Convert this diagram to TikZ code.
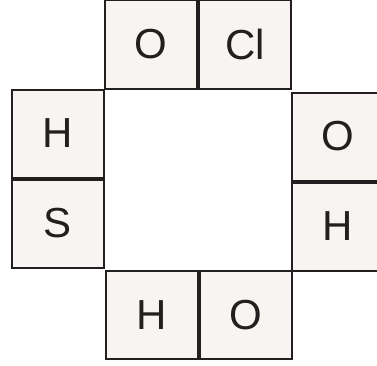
\documentclass[tikz,border=0pt]{standalone}
\usepackage{fontspec}
\setmainfont{Liberation Sans}
\usetikzlibrary{positioning}

\definecolor{ink}{HTML}{231F20}
\definecolor{paper}{HTML}{F7F4F2}

\begin{document}
\begin{tikzpicture}[x=1pt, y=1pt,
    atom/.style={rectangle, draw=ink, fill=paper, line width=2pt,
      minimum width=92pt, minimum height=88pt, inner sep=0pt,
      text=ink, font=\fontsize{42}{50}\selectfont}]

  \useasboundingbox (0,0) rectangle (377,365);

  % top pair
  \node[atom] (o1) at (151,320.5) {O};
  \node[atom, right=0pt of o1] (cl) {Cl};

  % left pair
  \node[atom] (h1) at (57.5,231.5) {H};
  \node[atom, below=0pt of h1] (s) {S};

  % right pair
  \node[atom] (o2) at (338,228.5) {O};
  \node[atom, below=0pt of o2] (h2) {H};

  % bottom pair
  \node[atom] (h3) at (151.5,50) {H};
  \node[atom, right=0pt of h3] (o3) {O};

\end{tikzpicture}
\end{document}
